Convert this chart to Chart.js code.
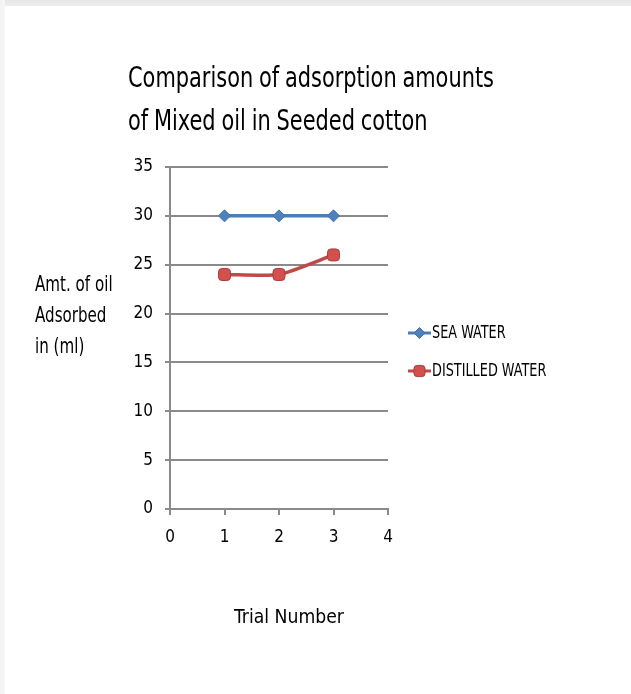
<!DOCTYPE html>
<html>
<head>
<meta charset="utf-8">
<script src="https://cdn.jsdelivr.net/npm/chart.js@4/dist/chart.umd.min.js"></script>
<style>
  html, body { margin: 0; padding: 0; background: #ffffff; }
  #page { position: relative; width: 631px; height: 694px; overflow: hidden; background: #ffffff; }
  #page::before { content: ""; position: absolute; left: 0; top: 0; width: 631px; height: 6px;
    background: linear-gradient(#e6e6e6, #eeeeee); }
  #page::after { content: ""; position: absolute; left: 0; top: 0; width: 5px; height: 694px;
    background: linear-gradient(90deg, #f2f2f2, #f7f7f7); }
  canvas { position: absolute; left: 0; top: 0; z-index: 2; }
</style>
</head>
<body>
<div id="page"><canvas id="c" width="631" height="694"></canvas></div>
<script>
// Trial numbers and the oil amounts (ml) adsorbed by seeded cotton
const trials = [1, 2, 3];
const seaWater = [30, 30, 30];
const distilledWater = [24, 24, 26];
const seriesNames = ['SEA WATER', 'DISTILLED WATER'];
const xTicks = [0, 1, 2, 3, 4];
const yTicks = [0, 5, 10, 15, 20, 25, 30, 35];

const titleLines = ['Comparison of adsorption amounts', 'of Mixed oil in Seeded cotton'];
const yTitleLines = ['Amt. of oil', 'Adsorbed', 'in (ml)'];
const xTitle = 'Trial Number';

const FONT = '"Liberation Sans Narrow", "DejaVu Sans Condensed", "Liberation Sans", sans-serif';
const GRID = '#8a8a8a';

const toPoints = (xs, ys) => xs.map((x, i) => ({ x: x, y: ys[i] }));

// draw text squeezed horizontally by factor k, anchored at x
function narrowText(ctx, text, x, y, k, align) {
  ctx.save();
  ctx.translate(x, y);
  ctx.scale(k, 1);
  ctx.textAlign = align || 'left';
  ctx.fillText(text, 0, 0);
  ctx.restore();
}

// Titles and legend are drawn as canvas text after the chart renders
const annotations = {
  id: 'annotations',
  afterDraw(chart) {
    const ctx = chart.ctx;
    ctx.save();
    ctx.fillStyle = '#000000';
    ctx.textBaseline = 'middle';
    const hasWS = 'wordSpacing' in ctx;

    if (hasWS) ctx.wordSpacing = '-1px';
    ctx.font = '28px ' + FONT;
    titleLines.forEach((t, i) => narrowText(ctx, t, 128, 80 + i * 43, 0.83));

    if (hasWS) ctx.wordSpacing = '0px';
    ctx.font = '21px ' + FONT;
    yTitleLines.forEach((t, i) => narrowText(ctx, t, 35, 286 + i * 31, 0.8));

    ctx.font = '20px ' + FONT;
    narrowText(ctx, xTitle, 289, 618, 0.96, 'center');

    // legend: line sample with marker, then label
    ctx.font = '17px ' + FONT;
    chart.data.datasets.forEach((ds, i) => {
      const y = 333 + i * 38;
      ctx.strokeStyle = ds.borderColor;
      ctx.lineWidth = 3;
      ctx.beginPath();
      ctx.moveTo(408, y);
      ctx.lineTo(431, y);
      ctx.stroke();
      ctx.save();
      ctx.fillStyle = ds.pointBackgroundColor;
      ctx.strokeStyle = ds.pointBorderColor;
      ctx.lineWidth = ds.pointBorderWidth;
      Chart.helpers.drawPoint(ctx, {
        pointStyle: ds.pointStyle,
        radius: ds.pointRadius - 0.5,
        rotation: 0,
        borderWidth: ds.pointBorderWidth
      }, 419.5, y);
      ctx.restore();
      ctx.fillStyle = '#000000';
      narrowText(ctx, ds.label, 432, y + 1, 0.84);
    });
    ctx.restore();
  }
};

new Chart(document.getElementById('c'), {
  type: 'scatter',
  data: {
    datasets: [
      {
        label: seriesNames[0],
        data: toPoints(trials, seaWater),
        showLine: true,
        borderColor: '#4a7ebb',
        borderWidth: 3.5,
        tension: 0,
        pointStyle: 'rectRot',
        pointRadius: 6,
        pointHoverRadius: 6,
        pointBackgroundColor: '#4f81bd',
        pointBorderColor: '#3e70ad',
        pointBorderWidth: 1
      },
      {
        label: seriesNames[1],
        data: toPoints(trials, distilledWater),
        showLine: true,
        borderColor: '#be4b48',
        borderWidth: 3.5,
        tension: 0.2,
        pointStyle: 'rectRounded',
        pointRadius: 7,
        pointHoverRadius: 7,
        pointBackgroundColor: '#d4504d',
        pointBorderColor: '#a63e3b',
        pointBorderWidth: 1
      }
    ]
  },
  options: {
    responsive: false,
    animation: false,
    events: [],
    layout: { padding: { left: 0, top: 167, right: 243, bottom: 0 } },
    plugins: { legend: { display: false }, title: { display: false }, tooltip: { enabled: false } },
    scales: {
      x: {
        type: 'linear',
        min: xTicks[0],
        max: xTicks[xTicks.length - 1],
        afterFit(scale) { scale.height = 694 - 509; },
        afterBuildTicks(scale) { scale.ticks = xTicks.map(v => ({ value: v })); },
        border: { display: true, color: GRID, width: 2 },
        grid: { display: true, drawOnChartArea: false, drawTicks: true, tickLength: 6, color: GRID, lineWidth: 2 },
        ticks: { color: '#000000', padding: 12, font: { family: FONT, size: 17 }, maxRotation: 0 }
      },
      y: {
        type: 'linear',
        min: yTicks[0],
        max: yTicks[yTicks.length - 1],
        afterFit(scale) { scale.width = 170; },
        afterBuildTicks(scale) { scale.ticks = yTicks.map(v => ({ value: v })); },
        border: { display: true, color: GRID, width: 2 },
        grid: { display: true, drawTicks: true, tickLength: 5, color: GRID, lineWidth: 2 },
        ticks: { color: '#000000', padding: 12, font: { family: FONT, size: 17 } }
      }
    }
  },
  plugins: [annotations]
});
</script>
</body>
</html>
